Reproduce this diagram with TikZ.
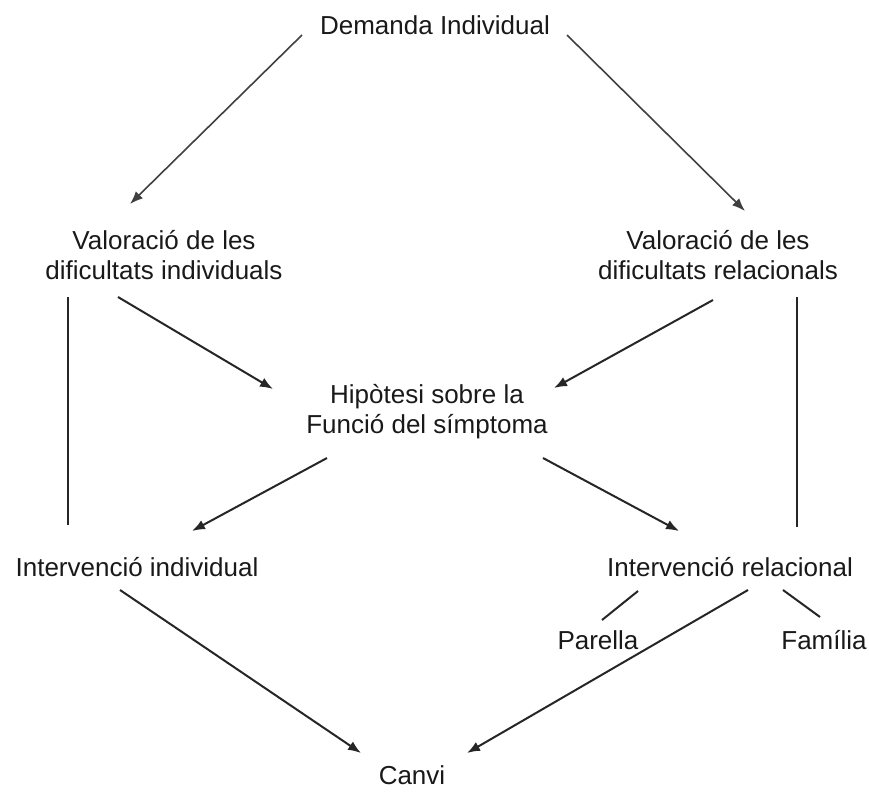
\documentclass[tikz,border=0pt]{standalone}
\usepackage{fontspec}
\setmainfont{Liberation Sans}
\usetikzlibrary{arrows.meta}
\begin{document}
\begin{tikzpicture}[x=1pt,y=-1pt,
  lbl/.style={font=\fontsize{26}{30}\selectfont, text=black!90, align=center, inner sep=0pt},
  conn/.style={draw=black!85, line width=2pt},
  thinconn/.style={draw=black!75, line width=1.6pt},
  arr/.style={conn, -{Latex[length=13pt,width=10pt]}},
  thinarr/.style={thinconn, -{Latex[length=13pt,width=10pt]}}]
\useasboundingbox (0,0) rectangle (869,801);
% nodes
\node[lbl] (dem) at (435,25) {Demanda Individual};
\node[lbl] (vind) at (164,255) {Valoració de les\\dificultats individuals};
\node[lbl] (vrel) at (718,255) {Valoració de les\\dificultats relacionals};
\node[lbl] (hip) at (427,412) {Hipòtesi sobre la\\Funció del símptoma};
\node[lbl] (iind) at (137,567) {Intervenció individual};
\node[lbl] (irel) at (730,567) {Intervenció relacional};
\node[lbl] (par) at (598,640) {Parella};
\node[lbl] (fam) at (824,640) {Família};
\node[lbl] (can) at (412,775) {Canvi};
% connector end points
\coordinate (dem-l) at (302,35);   \coordinate (vind-t) at (130,204);
\coordinate (dem-r) at (567,35);   \coordinate (vrel-t) at (745,211);
\coordinate (vind-b) at (118,297); \coordinate (hip-tl) at (273,389);
\coordinate (vrel-b) at (713,300); \coordinate (hip-tr) at (554,388);
\coordinate (hip-bl) at (327,458); \coordinate (iind-t) at (192,531);
\coordinate (hip-br) at (543,458); \coordinate (irel-t) at (679,531);
\coordinate (vind-s) at (68,297);  \coordinate (iind-n) at (68,525);
\coordinate (vrel-s) at (797,297); \coordinate (irel-n) at (797,527);
\coordinate (iind-b) at (120,590); \coordinate (can-l) at (361,753);
\coordinate (irel-b) at (748,590); \coordinate (can-r) at (467,753);
\coordinate (irel-p) at (638,591); \coordinate (par-t) at (602,620);
\coordinate (irel-f) at (783,590); \coordinate (fam-t) at (820,617);
% connectors
\draw[thinarr] (dem-l) -- (vind-t);
\draw[thinarr] (dem-r) -- (vrel-t);
\draw[arr] (vind-b) -- (hip-tl);
\draw[arr] (vrel-b) -- (hip-tr);
\draw[arr] (hip-bl) -- (iind-t);
\draw[arr] (hip-br) -- (irel-t);
\draw[conn] (vind-s) -- (iind-n);
\draw[conn] (vrel-s) -- (irel-n);
\draw[arr] (iind-b) -- (can-l);
\draw[arr] (irel-b) -- (can-r);
\draw[conn] (irel-p) -- (par-t);
\draw[conn] (irel-f) -- (fam-t);
\end{tikzpicture}
\end{document}
